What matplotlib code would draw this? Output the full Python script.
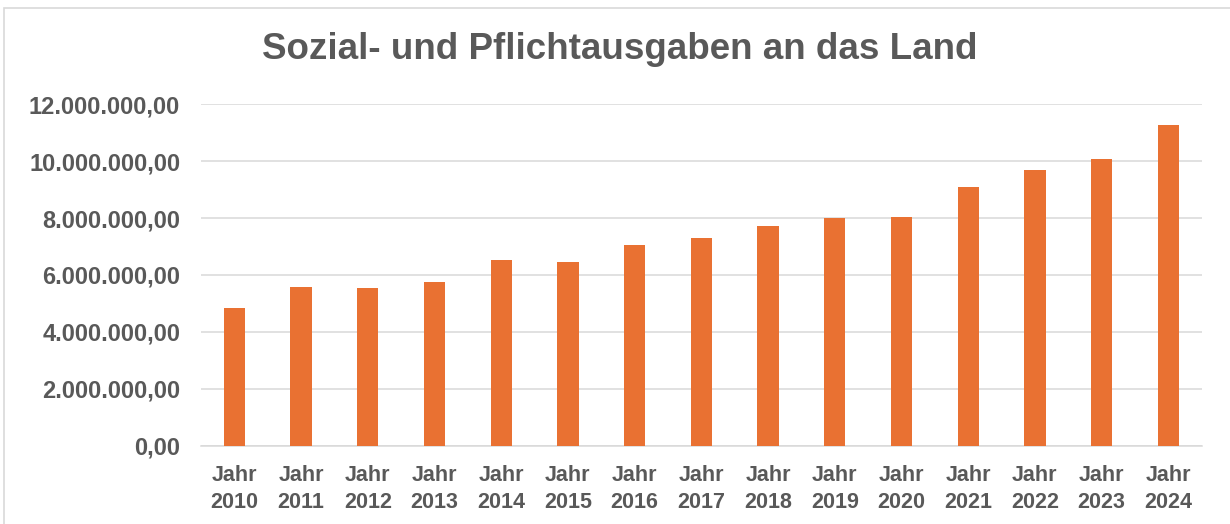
import matplotlib.pyplot as plt
from matplotlib.ticker import FuncFormatter, MultipleLocator
from matplotlib.patches import Rectangle

plt.rcParams['font.family'] = ['Liberation Sans', 'DejaVu Sans']

# Data
jahre = ['2010', '2011', '2012', '2013', '2014', '2015', '2016', '2017',
         '2018', '2019', '2020', '2021', '2022', '2023', '2024']
ausgaben = [4830000, 5580000, 5540000, 5750000, 6530000, 6460000, 7050000,
            7300000, 7730000, 7990000, 8030000, 9080000, 9690000, 10080000,
            11270000]
labels = ['Jahr\n' + j for j in jahre]

text_color = '#595959'
grid_color = '#D9D9D9'
bar_color = '#E97132'


def german_fmt(v, pos):
    s = f'{v:,.2f}'
    return s.replace(',', 'X').replace('.', ',').replace('X', '.')


fig = plt.figure(figsize=(12.3, 5.24), dpi=100)
ax = fig.add_axes([0.1634, 0.1494, 0.8136, 0.6516])

x = range(len(jahre))
ax.bar(x, ausgaben, width=0.32, color=bar_color, zorder=3)

ax.set_ylim(0, 12000000)
ax.set_xlim(-0.5, len(jahre) - 0.5)
ax.yaxis.set_major_locator(MultipleLocator(2000000))
ax.yaxis.set_major_formatter(FuncFormatter(german_fmt))
ax.grid(axis='y', color=grid_color, linewidth=1.1, zorder=0)

ax.set_xticks(list(x))
ax.set_xticklabels(labels, linespacing=1.35)
ax.tick_params(axis='both', length=0, labelcolor=text_color)
ax.tick_params(axis='x', labelsize=15.5, pad=14)
ax.tick_params(axis='y', labelsize=17, pad=15)
for lbl in ax.get_xticklabels() + ax.get_yticklabels():
    lbl.set_fontweight('bold')

for side in ['top', 'right', 'left']:
    ax.spines[side].set_visible(False)
ax.spines['bottom'].set_color(grid_color)
ax.spines['bottom'].set_linewidth(1.1)

fig.text(0.504, 0.905, 'Sozial- und Pflichtausgaben an das Land',
         ha='center', va='center', fontsize=26.5, fontweight='bold',
         color=text_color)

# light frame around the chart area
fig.patches.append(Rectangle((4 / 1230, -0.1), 1.2, 1 - 8 / 524 + 0.1,
                             transform=fig.transFigure, fill=False,
                             edgecolor=grid_color, linewidth=1.2))

fig.savefig('out.png', dpi=100)
